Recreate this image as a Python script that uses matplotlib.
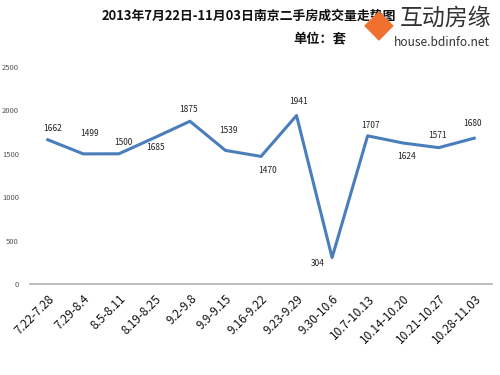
import matplotlib.pyplot as plt
import numpy as np

plt.rcParams['font.family'] = ['Noto Sans CJK SC', 'DejaVu Sans']

# 周次与成交量（套）
weeks = ["7.22-7.28", "7.29-8.4", "8.5-8.11", "8.19-8.25", "9.2-9.8", "9.9-9.15",
         "9.16-9.22", "9.23-9.29", "9.30-10.6", "10.7-10.13", "10.14-10.20",
         "10.21-10.27", "10.28-11.03"]
sales = [1662, 1499, 1500, 1685, 1875, 1539, 1470, 1941, 304, 1707, 1624, 1571, 1680]
yticks = [0, 500, 1000, 1500, 2000, 2500]

# 数据标签偏移（像素）
label_off = [(5, 11), (6, 20), (5, 11), (1, -10), (-1, 12), (3, 20), (7, -14),
             (2, 14), (-14, -6), (3, 10), (3, -13), (-1, 12), (-2, 15)]

fig = plt.figure(figsize=(5, 3.75), dpi=100)
ax = fig.add_axes([0.06, 0.2427, 0.924, 0.5786])

x = np.arange(len(weeks))
ax.plot(x, sales, color="#4a7ebb", linewidth=2.2)

for xi, v, (dx, dy) in zip(x, sales, label_off):
    ax.annotate(str(v), (xi, v), xytext=(dx * 0.72, dy * 0.72), textcoords="offset points",
                ha="center", va="center", fontsize=6, color="#222222")

ax.set_xlim(-0.5, len(weeks) - 0.5)
ax.set_ylim(0, 2500)
ax.set_yticks(yticks)
ax.set_yticklabels([str(t) for t in yticks], fontsize=5.5, color="#555555")
ax.set_xticks(x)
ax.set_xticklabels(weeks, rotation=45, ha="right", rotation_mode="anchor",
                   fontsize=8.5, color="#111111")
ax.tick_params(axis="both", length=0)
ax.tick_params(axis="y", pad=8)
ax.tick_params(axis="x", pad=6)
for s in ["top", "right", "left"]:
    ax.spines[s].set_visible(False)
ax.spines["bottom"].set_color("#b0b0b0")
ax.spines["bottom"].set_linewidth(1.2)

fig.text(0.498, 0.958, "2013年7月22日-11月03日南京二手房成交量走势图", ha="center", va="center",
         fontsize=9.3, fontweight="bold", color="#111111")
fig.text(0.64, 0.898, "单位：套", ha="center", va="center",
         fontsize=9.5, fontweight="bold", color="#111111")

# 水印
fig.text(0.757, 0.935, "◆", ha="center", va="center", fontsize=28, color="#f07030",
         family=['DejaVu Sans'], zorder=5)
fig.text(0.8, 0.952, "互动房缘", ha="left", va="center", fontsize=16.5, color="#333333", zorder=5)
fig.text(0.787, 0.886, "house.bdinfo.net", ha="left", va="center", fontsize=8.6,
         color="#333333", zorder=5)

fig.savefig("out.png", dpi=100, facecolor="white")
